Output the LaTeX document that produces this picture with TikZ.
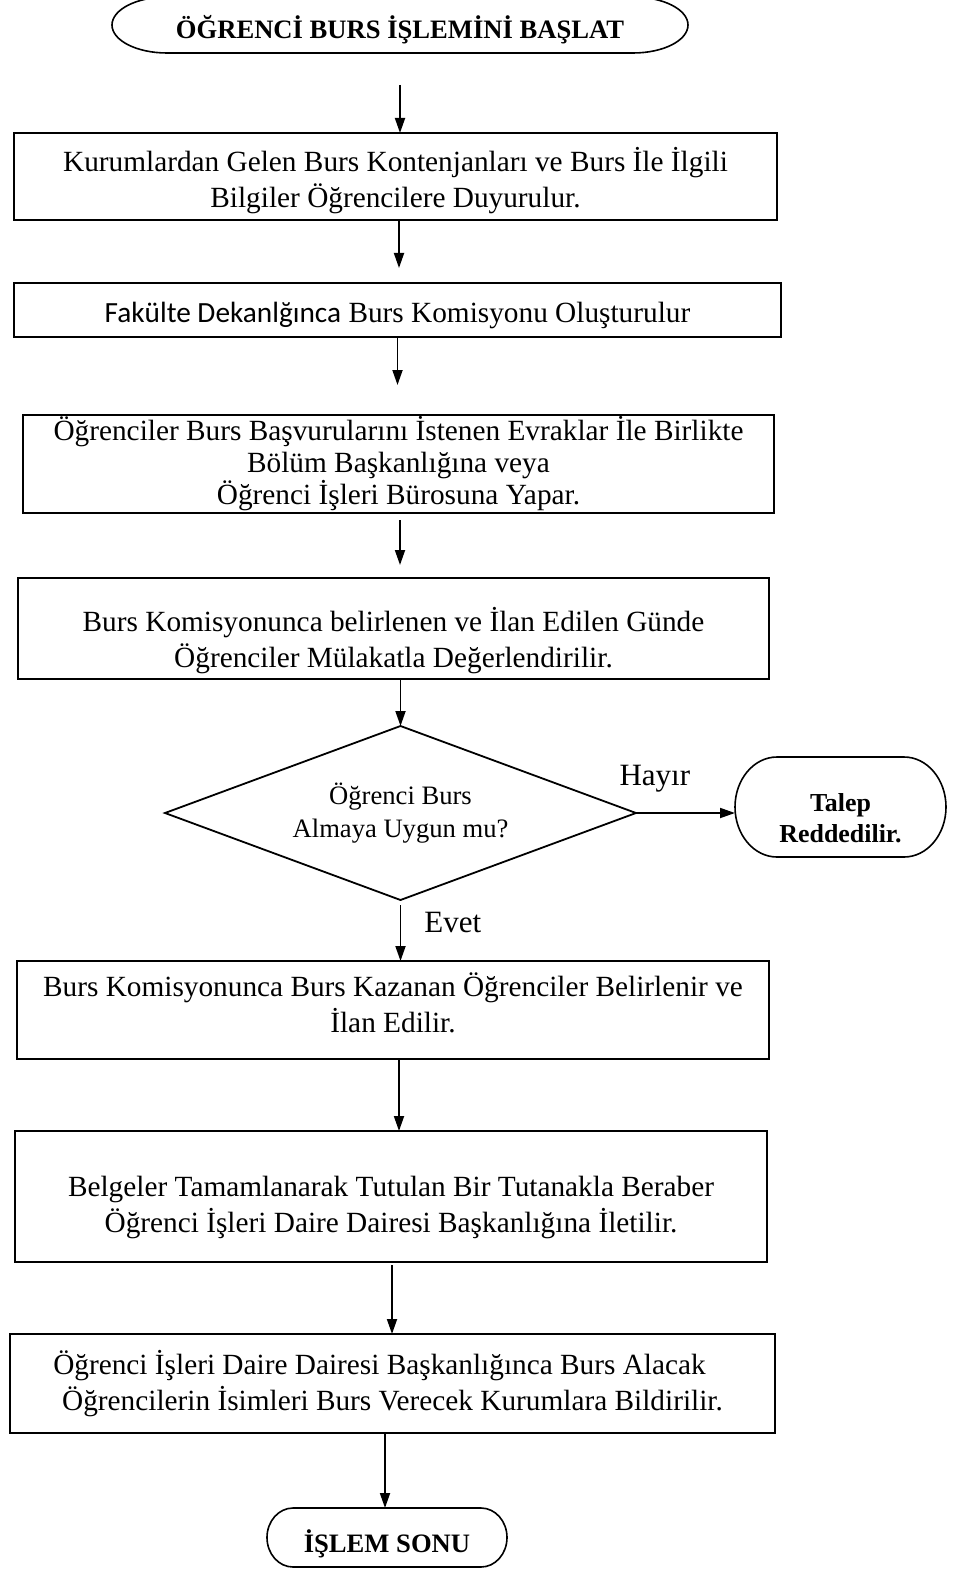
\documentclass[tikz,border=0pt]{standalone}
\usepackage{fontspec}
\setmainfont{Liberation Serif}
\newfontfamily\calibri{Carlito}
\usetikzlibrary{shapes.geometric,arrows.meta}

\newcommand{\termframe}[3]{%
  \draw[line width=1.6pt] ([xshift=#2]#1.north west) -- ([xshift=-#2]#1.north east)
    arc[start angle=90, end angle=-90, x radius=#2, y radius=#3]
    -- ([xshift=#2]#1.south west)
    arc[start angle=270, end angle=90, x radius=#2, y radius=#3] -- cycle;}

\begin{document}
\begin{tikzpicture}[x=1pt, y=-1pt,
        box/.style = {draw, line width=1.8pt, inner sep=0, outer sep=0, align=center, font=\fontsize{29.3}{36}\selectfont},
        term/.style = {inner sep=0, outer sep=0, align=center, font=\fontsize{26.6}{31}\selectfont\bfseries},
        arr/.style = {line width=1.8pt, -{Triangle[length=15pt,width=10pt]}},
        lbl/.style = {inner sep=0, font=\fontsize{31}{36}\selectfont}]
        \useasboundingbox (0,0) rectangle (956,1570);

        \node[term, minimum width=576pt, minimum height=56pt, text height=30pt, text depth=2pt] (1) at (400,25) {ÖĞRENCİ BURS İŞLEMİNİ BAŞLAT};
        \node[box, minimum width=763pt, minimum height=87pt, text height=69pt, text depth=7pt] (2) at (395.5,176.5) {Kurumlardan Gelen Burs Kontenjanları ve Burs İle İlgili\\Bilgiler Öğrencilere Duyurulur.};
        \node[box, minimum width=767pt, minimum height=54pt, text height=30pt, text depth=6pt] (3) at (397.5,310) {{\calibri Fakülte Dekanlğınca} Burs Komisyonu Oluşturulur};
        \node[box, minimum width=751pt, minimum height=98pt, font=\fontsize{29.3}{32}\selectfont] (4) at (398.5,464) {Öğrenciler Burs Başvurularını İstenen Evraklar İle Birlikte\\Bölüm Başkanlığına veya\\Öğrenci İşleri Bürosuna Yapar.};
        \node[box, minimum width=751pt, minimum height=101pt, text height=84pt, text depth=7pt] (5) at (393.5,628.5) {Burs Komisyonunca belirlenen ve İlan Edilen Günde\\Öğrenciler Mülakatla Değerlendirilir.};

        \node[box, diamond, aspect=2.7, minimum width=471pt, minimum height=174pt, font=\fontsize{26.6}{33}\selectfont] (6) at (400.5,813) {Öğrenci Burs\\Almaya Uygun mu?};
        \node[term, minimum width=211pt, minimum height=100pt, text height=76pt, text depth=6pt, font=\fontsize{25.9}{31}\selectfont\bfseries] (7) at (840.5,807) {Talep\\Reddedilir.};

        \node[box, minimum width=752pt, minimum height=98pt, text height=51pt, text depth=7pt] (8) at (393,1010) {Burs Komisyonunca Burs Kazanan Öğrenciler Belirlenir ve\\İlan Edilir.};
        \node[box, minimum width=752pt, minimum height=131pt, text height=78pt, text depth=7pt] (9) at (391,1196.5) {Belgeler Tamamlanarak Tutulan Bir Tutanakla Beraber\\Öğrenci İşleri Daire Dairesi Başkanlığına İletilir.};
        \node[box, minimum width=765pt, minimum height=99pt] (10) at (392.5,1383.5) {Öğrenci İşleri Daire Dairesi Başkanlığınca Burs Alacak\hbox to 26pt{}\\Öğrencilerin İsimleri Burs Verecek Kurumlara Bildirilir.};
        \node[term, minimum width=240pt, minimum height=59pt, text height=32pt, text depth=2pt] (11) at (387,1537.5) {İŞLEM SONU};

        \termframe{1}{55pt}{28pt}
        \termframe{7}{42pt}{50pt}
        \termframe{11}{26pt}{29.5pt}

        \draw[arr, shorten <=32pt] (1.south) -- (1.south |- 2.north);
        \draw[arr, shorten >=15pt] ([xshift=3.5pt]2.south) -- ([xshift=3.5pt]2.south |- 3.north);
        \draw[arr, shorten >=30pt] (3.south) -- (3.south |- 4.north);
        \draw[arr, shorten <=7pt, shorten >=13pt] ([xshift=1.5pt]4.south) -- ([xshift=1.5pt]4.south |- 5.north);
        \draw[arr] (5.south -| 6.north) -- (6.north);

        \draw[arr] (6.east) -- (6.east -| 7.west) node[lbl, pos=0.19, above=20pt] {Hayır};
        \draw[arr, shorten <=5pt] (6.south) -- (6.south |- 8.north) node[lbl, pos=0.37, right=23pt] {Evet};

        \draw[arr] ([xshift=6pt]8.south) -- ([xshift=6pt]8.south |- 9.north);
        \draw[arr, shorten <=3pt] ([xshift=1pt]9.south) -- ([xshift=1pt]9.south |- 10.north);
        \draw[arr] ([xshift=-7.5pt]10.south) -- ([xshift=-7.5pt]10.south |- 11.north);

    \end{tikzpicture}
\end{document}
